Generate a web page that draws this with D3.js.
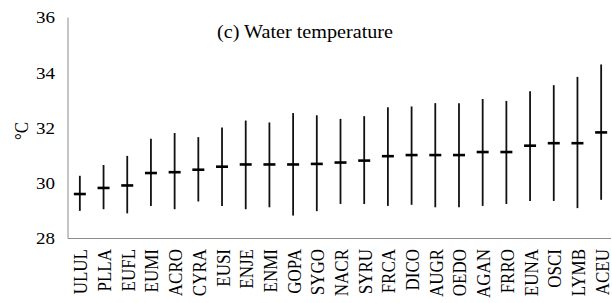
<!DOCTYPE html>
<html>
<head>
<meta charset="utf-8">
<script src="https://cdn.jsdelivr.net/npm/d3@7"></script>
<style>
  body { margin: 0; background: #fff; }
  svg { display: block; font-family: "Liberation Serif", "Times New Roman", serif; }
</style>
</head>
<body>
<svg id="chart" width="612" height="303"></svg>
<script>
const species = ['ULUL', 'PLLA', 'EUFL', 'EUMI', 'ACRO', 'CYRA', 'EUSI', 'ENJE', 'ENMI', 'GOPA', 'SYGO', 'NACR',
  'SYRU', 'FRCA', 'DICO', 'AUGR', 'OEDO', 'AGAN', 'FRRO', 'EUNA', 'OSCI', 'LYMB', 'ACEU'];
const meanTemp = [29.61, 29.83, 29.92, 30.37, 30.40, 30.49, 30.60, 30.68, 30.68, 30.68, 30.70, 30.75,
  30.82, 30.98, 31.02, 31.02, 31.02, 31.13, 31.13, 31.36, 31.45, 31.45, 31.84];
const maxTemp = [30.27, 30.66, 30.99, 31.61, 31.82, 31.67, 32.02, 32.27, 32.20, 32.54, 32.46, 32.33,
  32.43, 32.75, 32.78, 32.90, 32.90, 33.05, 32.98, 33.33, 33.55, 33.85, 34.30];
const minTemp = [29.00, 29.06, 28.91, 29.18, 29.06, 29.34, 29.18, 29.06, 29.13, 28.83, 28.99, 29.25,
  29.25, 29.18, 29.22, 29.13, 29.13, 29.18, 29.25, 29.36, 29.36, 29.10, 29.40];
const yTicks = [28, 30, 32, 34, 36];

const data = species.map((s, i) => ({ name: s, mean: meanTemp[i], max: maxTemp[i], min: minTemp[i] }));

const svg = d3.select('#chart');
const plotLeft = 68, plotRight = 613, plotTop = 17.5, plotBottom = 238.5;
const sx = 1.12; // the original looks a bit wider than tall

const x = d3.scaleBand().domain(species).range([plotLeft, plotRight]);
const y = d3.scaleLinear().domain([28, 36]).range([plotBottom, plotTop]);

// axes lines
svg.append('line')
  .attr('x1', plotLeft).attr('x2', plotLeft)
  .attr('y1', y(36)).attr('y2', plotBottom)
  .attr('stroke', '#8c8c8c').attr('stroke-width', 1);
svg.append('line')
  .attr('x1', plotLeft).attr('x2', 611)
  .attr('y1', plotBottom).attr('y2', plotBottom)
  .attr('stroke', '#8c8c8c').attr('stroke-width', 1);

// y tick labels
svg.append('g').selectAll('text')
  .data(yTicks)
  .enter().append('text')
  .attr('transform', d => `translate(55, ${y(d)}) scale(${sx}, 1)`)
  .attr('dy', '0.35em')
  .attr('text-anchor', 'end')
  .style('font-size', '17px')
  .text(d => d);

// x labels
svg.append('g').selectAll('text')
  .data(species)
  .enter().append('text')
  .attr('transform', d => `translate(${x(d) + x.bandwidth() / 2 + 7.5}, 249) scale(${sx}, 1) rotate(-90)`)
  .attr('text-anchor', 'end')
  .style('font-size', '17px')
  .text(d => d);

// range whiskers
const g = svg.append('g');
g.selectAll('line.range')
  .data(data)
  .enter().append('line')
  .attr('class', 'range')
  .attr('x1', d => x(d.name) + x.bandwidth() / 2)
  .attr('x2', d => x(d.name) + x.bandwidth() / 2)
  .attr('y1', d => y(d.max))
  .attr('y2', d => y(d.min))
  .attr('stroke', '#111')
  .attr('stroke-width', 1.8);

// mean markers
g.selectAll('line.mean')
  .data(data)
  .enter().append('line')
  .attr('class', 'mean')
  .attr('x1', d => x(d.name) + x.bandwidth() / 2 - 6)
  .attr('x2', d => x(d.name) + x.bandwidth() / 2 + 6)
  .attr('y1', d => y(d.mean))
  .attr('y2', d => y(d.mean))
  .attr('stroke', '#000')
  .attr('stroke-width', 2.6);

// y axis title
svg.append('text')
  .attr('transform', `translate(28, 131) scale(${sx}, 1) rotate(-90)`)
  .attr('text-anchor', 'middle')
  .style('font-size', '17px')
  .text('°C');

// chart title
svg.append('text')
  .attr('transform', `translate(305, 38) scale(${sx}, 1)`)
  .attr('text-anchor', 'middle')
  .style('font-size', '18px')
  .text('(c) Water temperature');
</script>
</body>
</html>
